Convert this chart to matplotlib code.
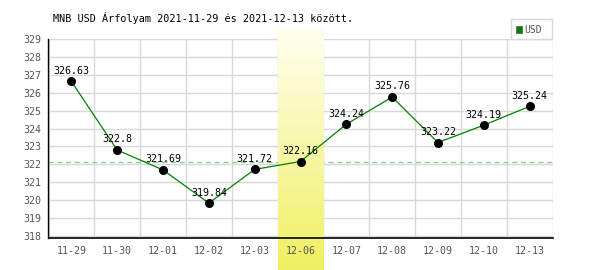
import matplotlib.pyplot as plt
import numpy as np
from matplotlib.patches import Rectangle

# Data
dates = ['11-29', '11-30', '12-01', '12-02', '12-03', '12-06',
         '12-07', '12-08', '12-09', '12-10', '12-13']
rates = [326.63, 322.8, 321.69, 319.84, 321.72, 322.16,
         324.24, 325.76, 323.22, 324.19, 325.24]
highlight_idx = 5
ref_level = 322.16
yticks = list(range(318, 330))

plt.rcParams['font.family'] = ['DejaVu Sans Mono']

fig = plt.figure(figsize=(6, 2.7), dpi=100)
ax = fig.add_axes([48.5 / 600, 32 / 270, 504 / 600, 199 / 270])

x = np.arange(len(dates))
ax.set_xlim(-0.5, len(dates) - 0.5)
ax.set_ylim(317.89, 329)

# grid
for xv in np.arange(-0.5, len(dates), 1.0):
    ax.axvline(xv, color='#d8d8d8', linewidth=1, zorder=0)
for yv in yticks:
    ax.axhline(yv, color='#d8d8d8', linewidth=1, zorder=0)

# reference level
ax.axhline(ref_level, color='#88cc88', linewidth=0.9, linestyle=(0, (4, 3)), zorder=0.3)

# highlighted day (gradient band, runs past the axes)
grad = np.linspace(0, 1, 256).reshape(-1, 1)
top_c = np.array([1.0, 1.0, 0.94])
bot_c = np.array([0.94, 0.94, 0.38])
img = top_c + (bot_c - top_c) * grad[:, :, None] * np.ones((1, 1, 3))
ax.imshow(img, extent=[highlight_idx - 0.5, highlight_idx + 0.5, 316.1, 329.61],
          aspect='auto', zorder=0.5, clip_on=False, interpolation='bilinear')

# series
ax.plot(x, rates, color='#008000', linewidth=0.9, zorder=3)
ax.plot(x, rates, 'o', color='black', markersize=5.5, zorder=4)
for xi, v in zip(x, rates):
    ax.annotate(f'{v:g}', (xi, v), xytext=(0, 4), textcoords='offset points',
                ha='center', va='bottom', fontsize=7.2, color='black', zorder=5)

ax.set_xticks(x)
ax.set_xticklabels(dates)
ax.set_yticks(yticks)
ax.tick_params(length=0, labelsize=7.2, colors='#555555', pad=6)
ax.tick_params(axis='y', pad=5)

for side in ['top', 'right']:
    ax.spines[side].set_visible(False)
ax.spines['left'].set_color('black')
ax.spines['bottom'].set_color('black')
ax.spines['left'].set_linewidth(1)
ax.spines['bottom'].set_linewidth(1.2)
ax.spines['left'].set_zorder(6)
ax.spines['bottom'].set_zorder(6)

# title
fig.text(53 / 600, 1 - 18 / 270, 'MNB USD Árfolyam 2021-11-29 és 2021-12-13 között.',
         ha='left', va='center', fontsize=7.25, color='black')

# legend box
fig.patches.append(Rectangle((511 / 600, 1 - 39 / 270), 41 / 600, 20 / 270,
                             transform=fig.transFigure, facecolor='white',
                             edgecolor='#d8d8d8', linewidth=1))
fig.patches.append(Rectangle((515.5 / 600, 1 - 32.5 / 270), 6 / 600, 6 / 270,
                             transform=fig.transFigure, facecolor='#008000',
                             edgecolor='#555555', linewidth=0.5))
fig.text(524 / 600, 1 - 30 / 270, 'USD', ha='left', va='center', fontsize=7, color='#555555')

fig.savefig('out.png', dpi=100)
